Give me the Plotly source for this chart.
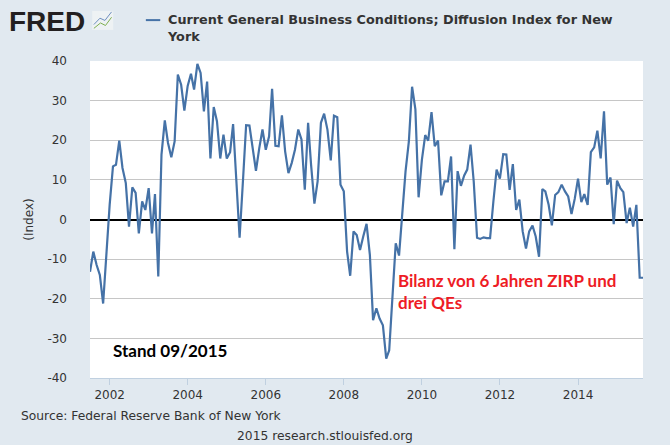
import pandas as pd
import plotly.graph_objects as go

# monthly values, Jul 2001 - Sep 2015
start_month = "2001-07-01"
index_values = [
    -13.2, -8.1, -11.5, -14.0, -21.2, -9.0, 3.7, 13.4, 13.8, 19.9, 13.0, 9.2,
    -1.8, 8.1, 6.7, -3.5, 4.6, 2.4, 7.9, -3.5, 6.4, -14.4, 16.4, 25.0,
    19.3, 15.7, 19.7, 36.6, 34.0, 27.5, 33.7, 36.8, 32.8, 39.3, 37.0, 27.3,
    34.8, 15.4, 28.4, 24.8, 15.4, 21.4, 15.4, 17.0, 24.1, 9.6, -4.6, 9.6,
    23.8, 23.7, 17.6, 12.3, 18.0, 22.7, 17.6, 21.0, 33.0, 18.6, 18.5, 26.3,
    17.2, 11.7, 14.3, 17.6, 22.7, 20.2, 7.5, 24.4, 13.8, 4.0, 9.6, 24.4,
    26.7, 22.7, 14.9, 26.2, 25.8, 8.8, 7.1, -8.1, -14.2, -3.0, -3.9, -7.7,
    -4.3, -1.1, -8.9, -25.4, -22.4, -25.0, -26.7, -35.1, -33.0, -19.0, -6.0, -9.1,
    0.3, 12.2, 19.7, 33.5, 27.8, 5.6, 15.1, 21.3, 19.9, 27.1, 18.5, 19.9,
    6.1, 9.6, 9.6, 15.9, -7.5, 12.2, 8.5, 11.1, 12.6, 18.9, 9.6, -4.6,
    -4.9, -4.5, -4.7, -4.7, 4.6, 12.6, 10.3, 16.5, 16.4, 7.5, 14.0, 2.4,
    5.0, -3.0, -7.3, -3.0, -1.5, -4.3, -9.4, 7.7, 7.1, 3.7, -1.5, 6.2,
    6.9, 8.8, 7.1, 5.8, 1.4, 5.2, 10.3, 4.4, 6.4, 3.7, 17.0, 18.2,
    22.4, 15.4, 27.3, 8.8, 10.6, -1.2, 9.8, 7.9, 6.9, -0.9, 3.0, -1.8,
    3.7, -14.7, -14.7,
]
dates = pd.date_range(start_month, periods=len(index_values), freq="MS")

y_ticks = [-40, -30, -20, -10, 0, 10, 20, 30, 40]
y_tick_labels = ["-40", "-30", "-20", "-10", "0", "10", "20", "30", "40"]
x_ticks = ["2002-01-01", "2004-01-01", "2006-01-01", "2008-01-01",
           "2010-01-01", "2012-01-01", "2014-01-01"]
x_tick_labels = ["2002", "2004", "2006", "2008", "2010", "2012", "2014"]

series_name = "Current General Business Conditions; Diffusion Index for New<br>York"

BG = "#e1e9f0"
LINE = "#4572a7"
TEXT = "#333333"

fig = go.Figure()

fig.add_trace(go.Scatter(
    x=dates, y=index_values,
    mode="lines",
    line=dict(color=LINE, width=2.2),
    showlegend=False,
    hoverinfo="x+y",
))

fig.update_layout(
    width=670, height=445,
    paper_bgcolor=BG,
    plot_bgcolor="white",
    margin=dict(l=90, r=27, t=61, b=67),
    font=dict(family="DejaVu Sans", size=12, color=TEXT),
    showlegend=False,
    xaxis=dict(
        range=[dates[0], dates[-1]],
        tickvals=x_ticks, ticktext=x_tick_labels,
        showgrid=False, zeroline=False,
        showline=True, linecolor="#c0d0e0", linewidth=1,
        ticks="outside", ticklen=6, tickcolor="#c0d0e0",
        tickfont=dict(size=12, color=TEXT),
    ),
    yaxis=dict(
        range=[-40, 40],
        tickvals=y_ticks, ticktext=y_tick_labels,
        showgrid=True, gridcolor="#c6c6c6", gridwidth=1,
        zeroline=True, zerolinecolor="black", zerolinewidth=2,
        showline=False,
        ticklabelstandoff=22,
        tickfont=dict(size=12, color=TEXT),
        title=dict(text="(Index)", font=dict(size=12, color=TEXT), standoff=11),
    ),
)

# header: logo + legend entry
fig.add_annotation(xref="paper", yref="paper", x=-0.150, y=1.126,
                   xanchor="left", yanchor="middle", showarrow=False,
                   text="<b>FRED</b>",
                   font=dict(family="Liberation Sans", size=28, color="#231f20"))
fig.add_shape(type="rect", xref="paper", yref="paper",
              x0=0.004, x1=0.042, y0=1.098, y1=1.158,
              fillcolor="#eef2f4", line=dict(width=0))
fig.add_shape(type="path", xref="paper", yref="paper",
              path="M 0.007 1.115 L 0.018 1.135 L 0.027 1.128 L 0.039 1.155",
              line=dict(color="#6f8fc0", width=1))
fig.add_shape(type="path", xref="paper", yref="paper",
              path="M 0.007 1.103 L 0.019 1.12 L 0.028 1.112 L 0.039 1.138",
              line=dict(color="#7fb050", width=1))
fig.add_shape(type="line", xref="paper", yref="paper",
              x0=0.101, x1=0.127, y0=1.129, y1=1.129,
              line=dict(color=LINE, width=2))
fig.add_annotation(xref="paper", yref="paper", x=0.136, y=1.162,
                   xanchor="left", yanchor="top", align="left", showarrow=False,
                   text="<b>" + series_name + "</b>",
                   font=dict(family="DejaVu Sans", size=12.8, color=TEXT))

# comments written into the chart
fig.add_annotation(xref="paper", yref="y", x=0.038, y=-33.0,
                   xanchor="left", yanchor="middle", showarrow=False,
                   text="<b>Stand 09/2015</b>",
                   font=dict(family="Lato", size=17, color="black"))
fig.add_annotation(xref="paper", yref="y", x=0.553, y=-18.2,
                   xanchor="left", yanchor="middle", align="left", showarrow=False,
                   text="<b>Bilanz von 6 Jahren ZIRP und<br>drei QEs</b>",
                   font=dict(family="Lato", size=17, color="#ee1c25"))

# footer
fig.add_annotation(xref="paper", yref="paper", x=-0.129, y=-0.12,
                   xanchor="left", yanchor="middle", showarrow=False,
                   text="Source: Federal Reserve Bank of New York",
                   font=dict(size=12.3, color=TEXT))
fig.add_annotation(xref="paper", yref="paper", x=0.425, y=-0.183,
                   xanchor="center", yanchor="middle", showarrow=False,
                   text="2015 research.stlouisfed.org",
                   font=dict(size=12.3, color=TEXT))

fig.write_html("out.html", config={"displayModeBar": False},
               post_script="document.body.style.margin='0';")
